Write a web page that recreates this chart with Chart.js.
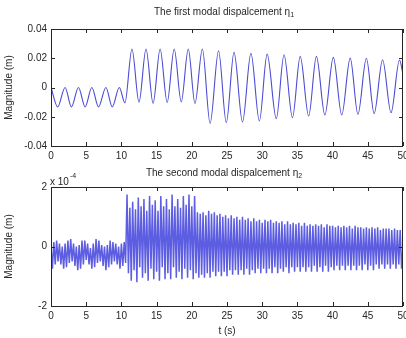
<!DOCTYPE html>
<html><head><meta charset="utf-8">
<script src="https://cdn.jsdelivr.net/npm/chart.js@4/dist/chart.umd.min.js"></script>
<style>
html,body{margin:0;padding:0;background:#fff;width:406px;height:338px;overflow:hidden}
canvas{position:absolute;left:0}
#c1{top:0}
#c2{top:165px}
</style></head><body>
<canvas id="c1" width="406" height="165"></canvas>
<canvas id="c2" width="406" height="173"></canvas>
<script>
// ---- data ----
// first modal displacement: turning points (time s, value m)
const eta1Times = [0,0.95,2.0,2.9,3.9,4.85,5.8,6.75,7.8,8.7,9.7,10.5,11.5,12.5,13.5,14.5,15.5,16.5,17.5,18.5,19.5,20.45,21.5,22.6,23.8,24.9,26.0,27.2,28.4,29.6,30.7,32.0,33.1,34.3,35.4,36.6,37.7,38.9,40.1,41.3,42.5,43.6,44.8,45.9,47.1,48.3,49.5,50];
const eta1Values = [0,-0.0133,0,-0.0133,0,-0.0133,0,-0.0133,0,-0.0133,0,-0.0105,0.0263,-0.0100,0.0263,-0.0108,0.0263,-0.0103,0.0263,-0.0098,0.0263,-0.0110,0.0263,-0.0245,0.0251,-0.0240,0.0240,-0.0236,0.0233,-0.0229,0.0228,-0.0213,0.0224,-0.0206,0.0213,-0.0195,0.0213,-0.0188,0.0206,-0.0188,0.0201,-0.0183,0.0200,-0.0178,0.0190,-0.0172,0.0188,0.0090];
// second modal displacement (x 1e-4 m), turning points every 0.2 s from t = 0
const eta2Start = 0;
const eta2Step = 0.2;
const eta2Values = [
 0.0,-0.75,0.15,-0.6,0.2,-0.5,0.1,-0.6,0.0,-0.75,
 0.1,-0.7,0.2,-0.55,0.25,-0.5,0.1,-0.65,0.0,-0.8,
 0.05,-0.75,0.2,-0.6,0.2,-0.45,0.1,-0.6,-0.05,-0.75,
 0.1,-0.7,0.25,-0.55,0.2,-0.5,0.05,-0.65,0.0,-0.8,
 0.05,-0.7,0.2,-0.6,0.15,-0.5,0.1,-0.6,0.0,-0.75,
 0.1,-0.65,0.15,-0.55,1.75,-0.9,1.3,-1.15,1.5,-0.8,
 1.25,-1.2,1.65,-0.7,1.35,-1.05,1.6,-0.9,1.2,-1.15,
 1.7,-0.75,1.4,-1.1,1.55,-0.85,1.2,-1.15,1.7,-0.7,
 1.35,-1.1,1.6,-0.9,1.25,-1.1,1.75,-0.7,1.35,-1.05,
 1.6,-0.85,1.3,-1.1,1.7,-0.75,1.4,-1.05,1.75,-0.8,
 1.35,-1.1,1.7,-0.9,1.15,-1.05,1.1,-0.95,1.15,-1.05,
 1.05,-0.9,1.2,-1.05,1.1,-0.85,1.15,-1.0,1.05,-0.85,
 1.1,-1.0,1.0,-0.85,1.05,-1.0,0.95,-0.8,1.05,-0.95,
 0.95,-0.8,1.0,-0.95,0.9,-0.8,1.0,-0.95,0.9,-0.75,
 0.95,-0.95,0.85,-0.8,0.95,-0.9,0.85,-0.75,0.9,-0.9,
 0.8,-0.75,0.9,-0.9,0.85,-0.75,0.9,-0.9,0.8,-0.7,
 0.85,-0.9,0.8,-0.75,0.85,-0.85,0.75,-0.7,0.85,-0.9,
 0.75,-0.7,0.8,-0.85,0.75,-0.7,0.8,-0.85,0.7,-0.7,
 0.8,-0.85,0.7,-0.7,0.75,-0.85,0.7,-0.65,0.75,-0.85,
 0.7,-0.7,0.75,-0.85,0.65,-0.65,0.75,-0.85,0.7,-0.7,
 0.7,-0.8,0.65,-0.65,0.7,-0.8,0.65,-0.65,0.7,-0.8,
 0.65,-0.65,0.7,-0.8,0.6,-0.65,0.7,-0.8,0.65,-0.65,
 0.65,-0.8,0.6,-0.6,0.65,-0.8,0.6,-0.65,0.65,-0.8,
 0.6,-0.6,0.65,-0.75,0.55,-0.6,0.6,-0.75,0.6,-0.6,
 0.6,-0.75,0.55,-0.6,0.6,-0.75,0.55,-0.6,0.55,-0.75,
 0.0];
const xTicksMin = 0, xTicksMax = 50, xTickStep = 5;
const title1 = "The first modal dispalcement η";
const title2 = "The second modal dispalcement η";
const yLabel = "Magnitude (m)";
const xLabel = "t (s)";

const FONT = "'Liberation Sans', Arial, Helvetica, sans-serif";
const TXT = '#262626';

function framePlugin(titleText, sub, titleY, extra) {
  return {
    id: 'frame',
    afterDraw(chart) {
      const {ctx, chartArea: a, scales} = chart;
      ctx.save();
      ctx.strokeStyle = '#262626';
      ctx.lineWidth = 1;
      ctx.strokeRect(Math.round(a.left) + 0.5, Math.round(a.top) + 0.5, Math.round(a.right - a.left) - 1, Math.round(a.bottom - a.top));
      const tl = 4;
      ctx.beginPath();
      scales.x.ticks.forEach(t => {
        const px = Math.round(scales.x.getPixelForValue(t.value)) + 0.5;
        ctx.moveTo(px, a.bottom); ctx.lineTo(px, a.bottom - tl);
        ctx.moveTo(px, a.top); ctx.lineTo(px, a.top + tl);
      });
      scales.y.ticks.forEach(t => {
        const py = Math.round(scales.y.getPixelForValue(t.value)) + 0.5;
        ctx.moveTo(a.left, py); ctx.lineTo(a.left + tl, py);
        ctx.moveTo(a.right, py); ctx.lineTo(a.right - tl, py);
      });
      ctx.stroke();
      // title
      ctx.fillStyle = TXT;
      ctx.font = '10px ' + FONT;
      ctx.textBaseline = 'middle';
      const w = ctx.measureText(titleText).width;
      ctx.font = '7px ' + FONT;
      const ws = ctx.measureText(sub).width;
      const cx = (a.left + a.right) / 2 - 3;
      const x0 = cx - (w + ws) / 2;
      ctx.font = '10px ' + FONT;
      ctx.textAlign = 'left';
      ctx.fillText(titleText, x0, titleY);
      ctx.font = '7px ' + FONT;
      ctx.fillText(sub, x0 + w, titleY + 3);
      if (extra) extra(ctx, a);
      ctx.restore();
    }
  };
}

function baseOptions(yMin, yMax, yStep, fmt, areaTop, xAxisH, showXTitle) {
  return {
    responsive: false,
    animation: false,
    events: [],
    layout: {padding: {left: 0, right: 3, top: areaTop, bottom: 0}},
    plugins: {legend: {display: false}, tooltip: {enabled: false}, title: {display: false}},
    scales: {
      x: {
        type: 'linear', min: xTicksMin, max: xTicksMax,
        grid: {display: false, drawTicks: false},
        border: {display: false},
        ticks: {stepSize: xTickStep, autoSkip: false, maxRotation: 0, padding: 4, color: TXT, font: {family: FONT, size: 10}},
        title: {display: showXTitle, text: xLabel, color: TXT, font: {family: FONT, size: 10}, padding: {top: 0, bottom: 1}},
        afterFit(s) { s.height = xAxisH; s.paddingLeft = 0; s.paddingRight = 0; }
      },
      y: {
        min: yMin, max: yMax,
        grid: {display: false, drawTicks: false},
        border: {display: false},
        ticks: {stepSize: yStep, padding: 4, color: TXT, font: {family: FONT, size: 10}, callback: fmt},
        title: {display: true, text: yLabel, color: TXT, font: {family: FONT, size: 10}, padding: {top: 3, bottom: 0}},
        afterFit(s) { s.width = 51; }
      }
    }
  };
}

// top chart
new Chart(document.getElementById('c1'), {
  type: 'line',
  data: {datasets: [{
    data: eta1Times.map((t, i) => ({x: t, y: eta1Values[i]})),
    borderColor: 'rgba(30,30,200,0.8)', borderWidth: 1.1, pointRadius: 0,
    cubicInterpolationMode: 'monotone', fill: false
  }]},
  options: baseOptions(-0.04, 0.04, 0.02, v => {
    const r = Math.round(v * 100) / 100; return r === 0 ? '0' : r.toFixed(2);
  }, 29, 19, false),
  plugins: [framePlugin(title1, '1', 12)]
});

// bottom chart
new Chart(document.getElementById('c2'), {
  type: 'line',
  data: {datasets: [{
    data: eta2Values.map((v, i) => ({x: eta2Start + i * eta2Step, y: v})),
    borderColor: 'rgba(30,30,215,0.72)', borderWidth: 1.5, pointRadius: 0,
    tension: 0, fill: false
  }]},
  options: baseOptions(-2, 2, 2, v => String(Math.round(v)), 22, 32, true),
  plugins: [framePlugin(title2, '2', 8, (ctx, a) => {
    ctx.font = '10px ' + FONT;
    ctx.textAlign = 'left';
    ctx.textBaseline = 'middle';
    ctx.fillText('x 10', 50, 17);
    const w = ctx.measureText('x 10').width;
    ctx.font = '7px ' + FONT;
    ctx.fillText('-4', 50 + w + 1, 11);
  })]
});
</script>
</body></html>
